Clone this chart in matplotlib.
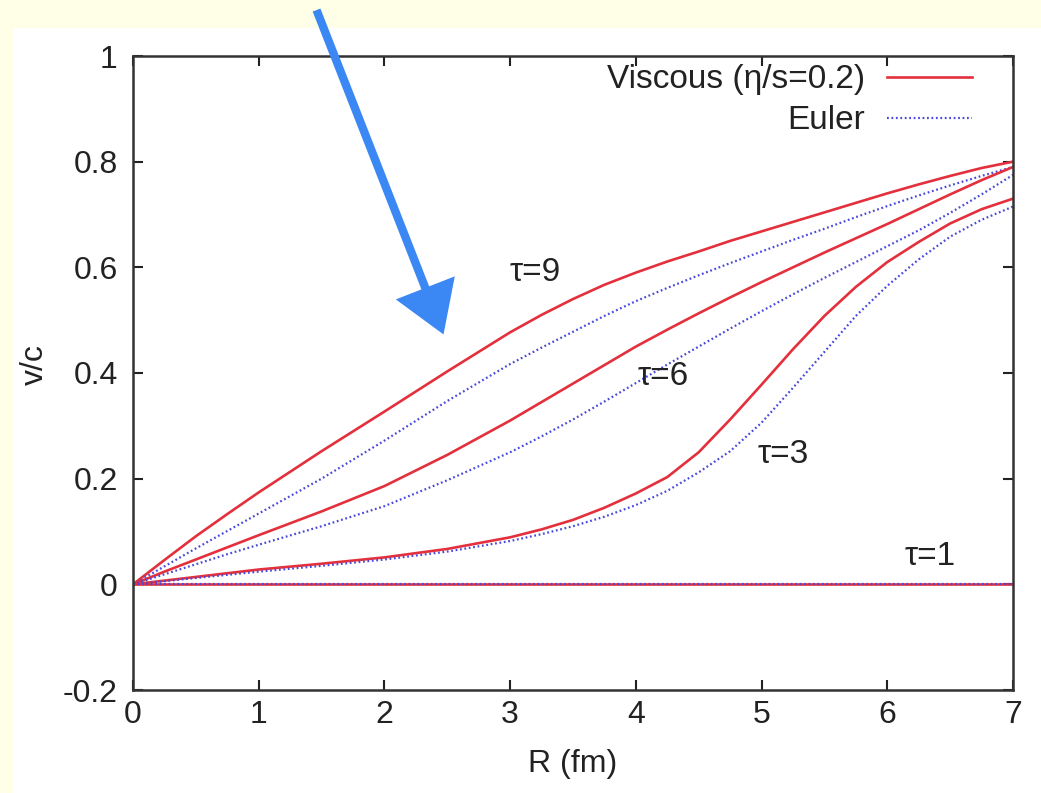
import matplotlib
matplotlib.use("Agg")
import matplotlib.pyplot as plt
from matplotlib.patches import Rectangle

plt.rcParams['font.family'] = ['Liberation Sans', 'DejaVu Sans']

# radial grid (fm) shared by all profiles
R = [0, 0.25, 0.5, 0.75, 1, 1.5, 2, 2.5, 3, 3.25, 3.5, 3.75, 4, 4.25,
     4.5, 4.75, 5, 5.25, 5.5, 5.75, 6, 6.25, 6.5, 6.75, 7]

# flow velocity v/c, viscous (eta/s = 0.2) vs ideal (Euler)
visc_tau9 = [0, 0.046, 0.091, 0.133, 0.174, 0.252, 0.327, 0.403, 0.477, 0.51,
             0.54, 0.567, 0.59, 0.611, 0.63, 0.65, 0.668, 0.686, 0.704, 0.722,
             0.74, 0.757, 0.773, 0.788, 0.80]
euler_tau9 = [0, 0.034, 0.068, 0.101, 0.134, 0.2, 0.272, 0.347, 0.417, 0.448,
              0.478, 0.508, 0.536, 0.561, 0.585, 0.608, 0.63, 0.652, 0.673, 0.695,
              0.716, 0.736, 0.755, 0.773, 0.79]
visc_tau6 = [0, 0.024, 0.047, 0.07, 0.093, 0.138, 0.186, 0.245, 0.31, 0.345,
             0.38, 0.415, 0.45, 0.482, 0.513, 0.543, 0.572, 0.6, 0.628, 0.655,
             0.682, 0.71, 0.738, 0.765, 0.79]
euler_tau6 = [0, 0.019, 0.038, 0.057, 0.075, 0.11, 0.148, 0.197, 0.25, 0.28,
              0.312, 0.346, 0.381, 0.416, 0.45, 0.484, 0.517, 0.549, 0.58, 0.61,
              0.64, 0.67, 0.703, 0.738, 0.775]
visc_tau3 = [0, 0.007, 0.014, 0.021, 0.028, 0.039, 0.051, 0.067, 0.089, 0.104,
             0.122, 0.145, 0.172, 0.203, 0.25, 0.312, 0.378, 0.445, 0.508, 0.563,
             0.61, 0.648, 0.683, 0.71, 0.73]
euler_tau3 = [0, 0.006, 0.012, 0.018, 0.024, 0.035, 0.047, 0.062, 0.082, 0.095,
              0.11, 0.128, 0.15, 0.177, 0.212, 0.252, 0.306, 0.372, 0.44, 0.508,
              0.565, 0.615, 0.658, 0.69, 0.715]
visc_tau1 = [0] * len(R)
euler_tau1 = [0] * len(R)

tau_labels = ["τ=9", "τ=6", "τ=3", "τ=1"]
label_R = [3.2, 4.22, 5.17, 6.34]
label_v = [0.59, 0.393, 0.246, 0.053]

xticks = [0, 1, 2, 3, 4, 5, 6, 7]
yticks = [-0.2, 0, 0.2, 0.4, 0.6, 0.8, 1]
ytick_text = ["-0.2", "0", "0.2", "0.4", "0.6", "0.8", "1"]

red = "#e3303c"
blue = "#4848dc"
arrow_col = "#3b87f3"
ink = "#222222"
fs = 23

fig = plt.figure(figsize=(10.41, 7.93), dpi=100, facecolor="#fffee6")
# white sheet behind the plot
fig.patches.append(Rectangle((13 / 1041, 0), 1, (793 - 28) / 793,
                             transform=fig.transFigure, facecolor="white",
                             edgecolor="none", zorder=-5))

ax = fig.add_axes([133 / 1041, 103 / 793, 880 / 1041, 634 / 793])
ax.set_facecolor("white")

curves = [(visc_tau9, euler_tau9), (visc_tau6, euler_tau6),
          (visc_tau3, euler_tau3), (visc_tau1, euler_tau1)]
for i, (vv, ee) in enumerate(curves):
    ax.plot(R, vv, color=red, lw=1.9,
            label="Viscous (η/s=0.2)" if i == 0 else None)
    ax.plot(R, ee, color=blue, lw=1.6, linestyle=(0, (0.8, 1.2)),
            label="Euler" if i == 0 else None)

for txt, xr, yv in zip(tau_labels, label_R, label_v):
    ax.text(xr, yv, txt, ha="center", va="center", fontsize=fs + 1, color=ink)

ax.set_xlim(0, 7)
ax.set_ylim(-0.2, 1)
ax.set_xticks(xticks)
ax.set_yticks(yticks)
ax.set_xticklabels([str(t) for t in xticks])
ax.set_yticklabels(ytick_text)
ax.tick_params(direction="in", length=7, width=1.5, top=True, right=True,
               labelsize=fs, colors=ink)
ax.tick_params(axis="x", pad=7)
ax.tick_params(axis="y", pad=11)
for sp in ax.spines.values():
    sp.set_linewidth(1.8)
    sp.set_color("#333333")

ax.set_xlabel("R (fm)", fontsize=fs, color=ink, va="center")
ax.set_ylabel("v/c", fontsize=fs, color=ink, va="center")
ax.xaxis.set_label_coords(0.5, -0.117)
ax.yaxis.set_label_coords(-0.112, 0.513)

leg = ax.legend(loc="upper right", frameon=False, markerfirst=False,
                fontsize=fs + 1, handlelength=2.55, handletextpad=0.66,
                labelspacing=0.3, borderaxespad=0, bbox_to_anchor=(0.969, 1.008))
for t in leg.get_texts():
    t.set_color(ink)

# hand-drawn style pointer
ax.annotate("", xy=(2.47, 0.473), xytext=(1.46, 1.087),
            xycoords="data", textcoords="data", annotation_clip=False,
            arrowprops=dict(arrowstyle="simple,head_length=3.0,head_width=3.8,tail_width=0.5",
                            mutation_scale=12, color=arrow_col, lw=0, shrinkA=0, shrinkB=0))

fig.savefig("out.png", dpi=100, facecolor=fig.get_facecolor())
